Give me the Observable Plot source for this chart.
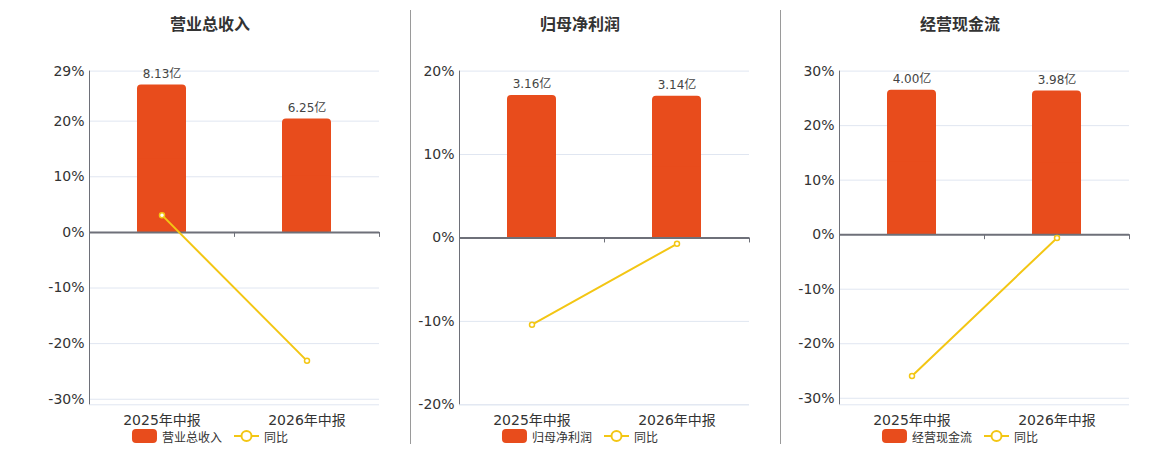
<!DOCTYPE html>
<html>
<head>
<meta charset="utf-8">
<script src="https://cdn.jsdelivr.net/npm/d3@7"></script>
<script src="https://cdn.jsdelivr.net/npm/@observablehq/plot@0.6"></script>
<style>
  body { margin: 0; background: #fff; }
  #root { position: relative; width: 1160px; height: 450px; overflow: hidden; }
  .title { position: absolute; top: 11px; transform: translateX(-50%); white-space: nowrap;
    font: bold 16px "Noto Sans CJK SC", sans-serif; color: #333; }
  .panel { position: absolute; top: 0; }
  .legend { position: absolute; top: 428px; height: 16px; transform: translateX(-50%); display: flex; align-items: center;
    white-space: nowrap; font: 12px "Noto Sans CJK SC", sans-serif; color: #333; }
  .legend .sw { width: 25px; height: 14px; border-radius: 4px; margin-right: 5px; }
  .legend .lab { margin-right: 12px; }
  .legend svg { margin-right: 5px; }
  .sep { position: absolute; top: 10px; height: 434px; width: 1px; background: #9a9a9a; }
</style>
</head>
<body>
<div id="root"></div>
<script>
// ---- data ----
const periods = ["2025年中报", "2026年中报"];
const titles = ["营业总收入", "归母净利润", "经营现金流"];
const revenue = [8.13, 6.25];        // 亿
const netProfit = [3.16, 3.14];      // 亿
const cashFlow = [4.00, 3.98];       // 亿
const revenueYoY = [3.1, -23.1];     // %
const netProfitYoY = [-10.4, -0.7];  // %
const cashFlowYoY = [-25.9, -0.6];   // %
const yDomains = [[-31, 29], [-20, 20], [-31.2, 30]];
const yTicks = [[29, 20, 10, 0, -10, -20, -30], [20, 10, 0, -10, -20], [30, 20, 10, 0, -10, -20, -30]];
const barAxisMax = [8.9, 3.70, 4.53]; // top of the hidden amount axis (亿), aligned with the % axis top

const barValues = [revenue, netProfit, cashFlow];
const yoyValues = [revenueYoY, netProfitYoY, cashFlowYoY];

// ---- layout / style ----
const BAR = "#E84C1C", LINE = "#F3C614", AXIS = "#6E7079", GRID = "#E0E6F1", TEXT = "#333";
const FONT = '"DejaVu Sans", "Noto Sans CJK SC", sans-serif';
const panelLeft = [0, 410, 780];
const panelWidth = [410, 370, 380];
const panelMarginLeft = [89, 49, 59];
const panelCenter = [210, 580, 960];
const root = document.getElementById("root");

titles.forEach((title, i) => {
  const rows = periods.map((p, j) => ({
    period: p,
    amount: barValues[i][j],
    yoy: yoyValues[i][j]
  }));
  const dom = yDomains[i];
  const ml = panelMarginLeft[i], w = panelWidth[i];
  const plotW = 290, mr = w - ml - plotW;
  const step = plotW / periods.length;
  const barW = 49;
  const inset = (step - barW) / 2;
  const barScale = dom[1] / barAxisMax[i];
  const by = d => d.amount * barScale;

  const chart = Plot.plot({
    width: w,
    height: 450,
    marginTop: 70.6,
    marginBottom: 45.7,
    marginLeft: ml,
    marginRight: mr,
    style: { fontFamily: FONT, fontSize: "14px", color: TEXT, background: "transparent", overflow: "visible" },
    x: { domain: periods, padding: 0 },
    y: { domain: dom },
    marks: [
      Plot.ruleY([...yTicks[i], dom[0]], { stroke: GRID, strokeWidth: 1 }),
      Plot.barY(rows, { x: "period", y: by, fill: BAR, insetLeft: inset, insetRight: inset, rx: 4 }),
      Plot.barY(rows, { x: "period", y: d => by(d) / 2, fill: BAR, insetLeft: inset, insetRight: inset }),
      Plot.ruleX([periods[0]], { dx: -step / 2, stroke: AXIS, strokeWidth: 1 }),
      Plot.ruleY([0], { stroke: AXIS, strokeWidth: 2 }),
      Plot.ruleX(periods, { x: d => d, dx: step / 2, y1: 0, y2: 0, insetBottom: -5, stroke: AXIS, strokeWidth: 1 }),
      Plot.axisY({ ticks: yTicks[i], tickSize: 0, tickPadding: 5, tickFormat: d => d + "%", fontSize: 14, fill: TEXT, label: null }),
      Plot.axisX({ tickSize: 0, tickPadding: 10, fontSize: 14, fill: TEXT, label: null }),
      Plot.text(rows, { x: "period", y: by, text: d => d.amount.toFixed(2) + "亿", dy: -11, fontSize: 12, fill: "#444" }),
      Plot.line(rows, { x: "period", y: "yoy", stroke: LINE, strokeWidth: 2 }),
      Plot.dot(rows, { x: "period", y: "yoy", r: 2.5, stroke: LINE, strokeWidth: 1.5, fill: "#fff" })
    ]
  });
  chart.classList.add("panel");
  chart.style.left = panelLeft[i] + "px";
  root.appendChild(chart);

  const t = document.createElement("div");
  t.className = "title";
  t.style.left = panelCenter[i] + "px";
  t.textContent = title;
  root.appendChild(t);

  const lg = document.createElement("div");
  lg.className = "legend";
  lg.style.left = panelCenter[i] + "px";
  lg.innerHTML =
    `<div class="sw" style="background:${BAR}"></div><span class="lab">${title}</span>` +
    `<svg width="25" height="14"><line x1="0" y1="7" x2="25" y2="7" stroke="${LINE}" stroke-width="2"/>` +
    `<circle cx="12.5" cy="7" r="5" fill="#fff" stroke="${LINE}" stroke-width="2"/></svg><span>同比</span>`;
  root.appendChild(lg);
});

[410, 780].forEach(x => {
  const s = document.createElement("div");
  s.className = "sep";
  s.style.left = x + "px";
  root.appendChild(s);
});
</script>
</body>
</html>
